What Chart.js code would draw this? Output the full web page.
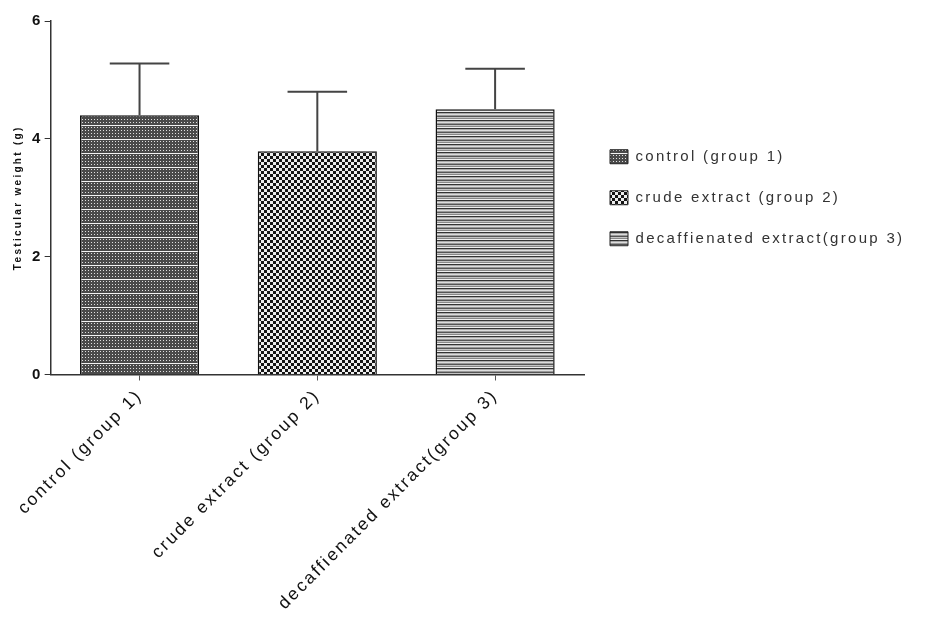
<!DOCTYPE html>
<html>
<head>
<meta charset="utf-8">
<script src="https://cdn.jsdelivr.net/npm/chart.js@4.4.1/dist/chart.umd.min.js"></script>
<style>
    html, body { margin: 0; padding: 0; background: #fff; }
    #wrap { width: 933px; height: 619px; }
</style>
</head>
<body>
<div id="wrap"><canvas id="weightChart" width="933" height="619"></canvas></div>
<script>
// Data
var categories = ['control (group 1)', 'crude extract (group 2)', 'decaffienated extract(group 3)'];
var meanWeight = [4.40, 3.79, 4.50];
var errorSD = [0.88, 1.01, 0.69];
var yTicks = [0, 2, 4, 6];

// Build the three fill patterns
function makePattern(w, h, draw) {
    var c = document.createElement('canvas');
    c.width = w;
    c.height = h;
    var g = c.getContext('2d');
    draw(g);
    return document.createElement('canvas').getContext('2d').createPattern(c, 'repeat');
}

var patterns = [
    // control: fine dotted grey with white rows
    makePattern(6, 14, function (g) {
        g.fillStyle = '#4a4a4a';
        g.fillRect(0, 0, 6, 14);
        g.fillStyle = '#e0e0e0';
        for (var y = 1; y < 13; y += 3) {
            for (var x = 1; x < 6; x += 3) g.fillRect(x, y, 1, 1);
        }
        g.fillStyle = '#f4f4f4';
        g.fillRect(0, 13, 6, 1);
    }),
    // crude: checker
    makePattern(6, 6, function (g) {
        g.fillStyle = '#eeeeee';
        g.fillRect(0, 0, 6, 6);
        g.fillStyle = '#151515';
        g.fillRect(0, 0, 3, 3);
        g.fillRect(3, 3, 3, 3);
    }),
    // decaffienated: grey horizontal stripes
    makePattern(4, 8, function (g) {
        var rows = ['#333', '#aaa', '#ddd', '#999', '#555', '#c4c4c4', '#888', '#eee'];
        for (var i = 0; i < rows.length; i++) {
            g.fillStyle = rows[i];
            g.fillRect(0, i, 4, 1);
        }
    })
];

// Wider letter spacing like the original figure
var spacingPlugin = {
    id: 'spacing',
    beforeUpdate: function (chart) { chart.ctx.letterSpacing = '2.3px'; },
    beforeDraw: function (chart) { chart.ctx.letterSpacing = '2.3px'; }
};

// Legend on the right is capped at a quarter of the width by the layout,
// so give it the room it needs for the long labels
var legendWidthPlugin = {
    id: 'legendWidth',
    beforeLayout: function (chart) {
        var lg = chart.legend;
        if (lg && !lg._wide) {
            var fit = lg.fit;
            lg.fit = function () {
                fit.call(this);
                this.width = 349;
            };
            lg._wide = true;
        }
    }
};

// Upper error bars (mean + SD)
var errorBarPlugin = {
    id: 'errorBars',
    afterDatasetsDraw: function (chart) {
        var ctx = chart.ctx;
        var yScale = chart.scales.y;
        var meta = chart.getDatasetMeta(0);
        ctx.save();
        ctx.strokeStyle = '#444';
        ctx.lineWidth = 2;
        meta.data.forEach(function (bar, i) {
            var top = yScale.getPixelForValue(meanWeight[i] + errorSD[i]);
            var half = bar.width / 4;
            ctx.beginPath();
            ctx.moveTo(bar.x, bar.y);
            ctx.lineTo(bar.x, top);
            ctx.moveTo(bar.x - half, top);
            ctx.lineTo(bar.x + half, top);
            ctx.stroke();
        });
        ctx.restore();
    }
};

var ctx = document.getElementById('weightChart').getContext('2d');
window.weightChartInstance = new Chart(ctx, {
    type: 'bar',
    data: {
        labels: categories,
        datasets: [{
            label: 'Testicular weight',
            data: meanWeight,
            backgroundColor: patterns,
            borderColor: '#111',
            borderWidth: 1.5,
            borderSkipped: 'bottom',
            barPercentage: 0.67,
            categoryPercentage: 1
        }]
    },
    options: {
        responsive: false,
        animation: false,
        layout: { padding: { top: 21, right: 0, left: 12, bottom: 0 } },
        plugins: {
            tooltip: { enabled: false },
            legend: {
                position: 'right',
                fullSize: false,
                labels: {
                    boxWidth: 18,
                    boxHeight: 14,
                    padding: 26,
                    color: '#333',
                    font: { family: 'Liberation Sans, Arial, sans-serif', size: 15 },
                    generateLabels: function () {
                        return categories.map(function (c, i) {
                            return {
                                text: c,
                                fillStyle: patterns[i],
                                strokeStyle: '#222',
                                lineWidth: 1,
                                hidden: false,
                                index: i,
                                fontColor: '#333'
                            };
                        });
                    }
                }
            }
        },
        scales: {
            x: {
                grid: { display: true, drawOnChartArea: false, offset: false, tickLength: 6, color: '#555' },
                border: { display: true, color: '#333', width: 1.5 },
                ticks: {
                    maxRotation: 45,
                    minRotation: 45,
                    color: '#111',
                    padding: 5,
                    font: { family: 'Liberation Sans, Arial, sans-serif', size: 17.5 }
                }
            },
            y: {
                min: 0,
                max: 6,
                afterBuildTicks: function (axis) {
                    axis.ticks = yTicks.map(function (v) { return { value: v }; });
                },
                grid: { display: true, drawOnChartArea: false, tickLength: 6, color: '#333' },
                border: { display: true, color: '#333', width: 1.5 },
                ticks: {
                    color: '#111',
                    padding: 2,
                    font: { family: 'Liberation Sans, Arial, sans-serif', size: 15, weight: 'bold' }
                },
                title: {
                    display: true,
                    text: 'Testicular weight (g)',
                    color: '#111',
                    padding: { top: 0, bottom: 6 },
                    font: { family: 'Liberation Sans, Arial, sans-serif', size: 10, weight: 'bold' }
                }
            }
        }
    },
    plugins: [spacingPlugin, legendWidthPlugin, errorBarPlugin]
});
</script>
</body>
</html>
